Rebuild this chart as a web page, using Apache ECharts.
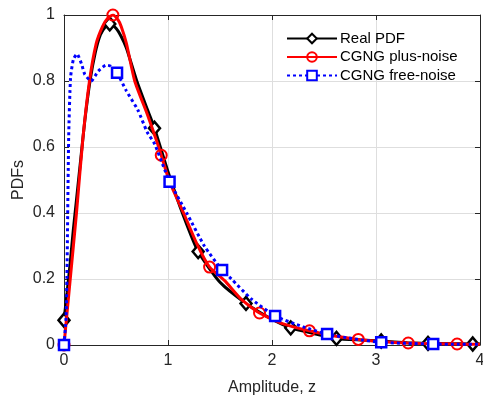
<!DOCTYPE html>
<html><head><meta charset="utf-8">
<script src="https://cdn.jsdelivr.net/npm/echarts@6/dist/echarts.min.js"></script>
<style>html,body{margin:0;padding:0;background:#fff}#c{width:483px;height:398px}</style>
</head><body><div id="c"></div>
<script>
// Real PDF curve
var realX = [0, 0.03, 0.06, 0.09, 0.12, 0.16, 0.2, 0.25, 0.3, 0.35, 0.4, 0.44, 0.5, 0.55, 0.6, 0.7, 0.8, 0.87, 1.0, 1.15, 1.29, 1.5, 1.75, 2.0, 2.18, 2.4, 2.62, 2.85, 3.05, 3.3, 3.5, 3.75, 3.93, 4.0];
var realY = [0.075, 0.16, 0.25, 0.35, 0.44, 0.56, 0.68, 0.8, 0.885, 0.94, 0.965, 0.973, 0.96, 0.935, 0.9, 0.8, 0.715, 0.657, 0.525, 0.39, 0.283, 0.19, 0.126, 0.078, 0.052, 0.035, 0.02, 0.015, 0.012, 0.007, 0.005, 0.004, 0.003, 0.003];
var realMarkX = [0, 0.44, 0.87, 1.29, 1.75, 2.18, 2.62, 3.05, 3.5, 3.93];
// CGNG plus-noise
var plusX = [0, 0.06, 0.12, 0.18, 0.245, 0.31, 0.37, 0.42, 0.47, 0.52, 0.55, 0.6, 0.68, 0.8, 0.9, 0.935, 1.015, 1.15, 1.28, 1.4, 1.545, 1.7, 1.88, 2.1, 2.36, 2.6, 2.83, 3.07, 3.31, 3.55, 3.78, 4.0];
var plusY = [0, 0.2, 0.4, 0.62, 0.8, 0.914, 0.965, 0.99, 1.0, 0.985, 0.965, 0.914, 0.8, 0.7, 0.61, 0.575, 0.495, 0.4, 0.305, 0.236, 0.195, 0.14, 0.097, 0.065, 0.043, 0.027, 0.017, 0.01, 0.006, 0.004, 0.003, 0.002];
var plusMarkX = [0, 0.47, 0.935, 1.4, 1.88, 2.36, 2.83, 3.31, 3.78];
// CGNG free-noise
var freeX = [0, 0.02, 0.03, 0.045, 0.063, 0.09, 0.125, 0.17, 0.2, 0.26, 0.33, 0.405, 0.45, 0.51, 0.6, 0.71, 0.8, 0.87, 0.97, 1.015, 1.18, 1.35, 1.52, 1.61, 1.8, 2.03, 2.3, 2.53, 2.8, 3.05, 3.3, 3.55, 3.8, 4.0];
var freeY = [0, 0.086, 0.25, 0.63, 0.81, 0.865, 0.882, 0.85, 0.82, 0.8, 0.83, 0.848, 0.845, 0.825, 0.77, 0.712, 0.645, 0.61, 0.53, 0.495, 0.4, 0.3, 0.227, 0.2, 0.14, 0.088, 0.055, 0.033, 0.018, 0.008, 0.005, 0.003, 0.002, 0.002];
var freeMarkX = [0, 0.51, 1.015, 1.52, 2.03, 2.53, 3.05, 3.55];

var xTicks = [0, 1, 2, 3, 4];
var yTicks = [0, 0.2, 0.4, 0.6, 0.8, 1];

function build(xs, ys, marks) {
  return xs.map(function (x, i) {
    var item = { value: [x, ys[i]] };
    if (marks.indexOf(x) < 0) item.symbol = 'none';
    return item;
  });
}

var font = '"Liberation Sans", Arial, sans-serif';
var chart = echarts.init(document.getElementById('c'));
chart.setOption({
  animation: false,
  backgroundColor: '#fff',
  grid: { left: 64, right: 3, top: 15, bottom: 53, show: false, containLabel: false, outerBoundsMode: 'none' },
  legend: {
    orient: 'vertical', left: 286, top: 31, padding: 0,
    itemWidth: 50, itemHeight: 12, itemGap: 3.5,
    textStyle: { fontFamily: font, fontSize: 15, lineHeight: 15, color: '#000', padding: [0, 0, 0, -2] },
    data: ['Real PDF', 'CGNG plus-noise', 'CGNG free-noise']
  },
  xAxis: [{
    type: 'value', min: 0, max: 4, interval: 1,
    name: 'Amplitude, z', nameLocation: 'middle', nameGap: 35, nameMoveOverlap: false,
    nameTextStyle: { fontFamily: font, fontSize: 16, color: '#262626' },
    axisLine: { show: true, lineStyle: { color: '#262626', width: 1 } },
    axisTick: { show: true, inside: true, length: 5, lineStyle: { color: '#262626' } },
    axisLabel: { fontFamily: font, fontSize: 16, color: '#262626', margin: 8,
      formatter: function (v) { return xTicks.indexOf(v) >= 0 ? String(v) : ''; } },
    splitLine: { show: true, lineStyle: { color: '#dedede', width: 1 } }
  }, {
    type: 'value', min: 0, max: 4, interval: 1, position: 'top',
    axisLine: { show: true, onZero: false, lineStyle: { color: '#262626', width: 1 } },
    axisTick: { show: true, inside: true, length: 5, lineStyle: { color: '#262626' } },
    axisLabel: { show: false }, splitLine: { show: false }
  }],
  yAxis: [{
    type: 'value', min: 0, max: 1, interval: 0.2,
    name: 'PDFs', nameLocation: 'middle', nameGap: 37, nameRotate: 90, nameMoveOverlap: false,
    nameTextStyle: { fontFamily: font, fontSize: 16, color: '#262626' },
    axisLine: { show: true, lineStyle: { color: '#262626', width: 1 } },
    axisTick: { show: true, inside: true, length: 5, lineStyle: { color: '#262626' } },
    axisLabel: { fontFamily: font, fontSize: 16, color: '#262626', margin: 9,
      formatter: function (v) { var r = Math.round(v * 10) / 10; return yTicks.indexOf(r) >= 0 ? String(r) : ''; } },
    splitLine: { show: true, lineStyle: { color: '#dedede', width: 1 } }
  }, {
    type: 'value', min: 0, max: 1, interval: 0.2, position: 'right',
    axisLine: { show: true, onZero: false, lineStyle: { color: '#262626', width: 1 } },
    axisTick: { show: true, inside: true, length: 5, lineStyle: { color: '#262626' } },
    axisLabel: { show: false }, splitLine: { show: false }
  }],
  series: [{
    name: 'Real PDF', type: 'line', smooth: 0.2, z: 2,
    symbol: 'diamond', symbolSize: [11, 13], showAllSymbol: true,
    lineStyle: { color: '#000', width: 3 },
    itemStyle: { color: '#fff', borderColor: '#000', borderWidth: 2.5 },
    data: build(realX, realY, realMarkX)
  }, {
    name: 'CGNG plus-noise', type: 'line', smooth: 0.2, z: 3,
    symbol: 'circle', symbolSize: 11, showAllSymbol: true,
    lineStyle: { color: '#ff0000', width: 3 },
    itemStyle: { color: 'rgba(255,255,255,0)', borderColor: '#ff0000', borderWidth: 2 },
    data: build(plusX, plusY, plusMarkX)
  }, {
    name: 'CGNG free-noise', type: 'line', smooth: 0.2, z: 4,
    symbol: 'rect', symbolSize: 10, showAllSymbol: true,
    lineStyle: { color: '#0000ff', width: 3, type: [3, 3] },
    itemStyle: { color: '#fff', borderColor: '#0000ff', borderWidth: 2.5 },
    data: build(freeX, freeY, freeMarkX)
  }]
});
</script></body></html>
